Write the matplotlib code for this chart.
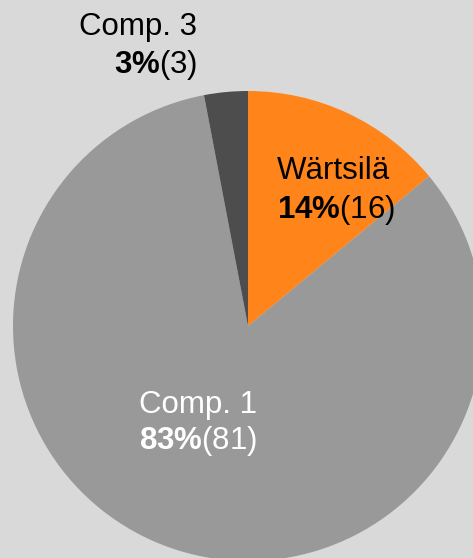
import matplotlib.pyplot as plt

plt.rcParams['font.family'] = ['Liberation Sans', 'DejaVu Sans']
plt.rcParams['mathtext.fontset'] = 'custom'
plt.rcParams['mathtext.rm'] = 'Liberation Sans'
plt.rcParams['mathtext.bf'] = 'Liberation Sans:bold'

# data
names = ['Wärtsilä', 'Comp. 1', 'Comp. 3']
shares = [14, 83, 3]
counts = [16, 81, 3]
colors = ['#ff851b', '#999999', '#4d4d4d']
text_colors = ['black', 'white', 'black']

W, H = 473, 558
bg = '#d9d9d9'

fig = plt.figure(figsize=(W / 100, H / 100), dpi=100, facecolor=bg)
ax = fig.add_axes([0, 0, 1, 1])
ax.set_facecolor(bg)

ax.pie(shares, colors=colors, startangle=90, counterclock=False,
       radius=235, center=(248, H - 326), frame=True,
       wedgeprops=dict(linewidth=0))
ax.set_xlim(0, W)
ax.set_ylim(0, H)
ax.set_aspect('equal')
ax.axis('off')

# label positions (pixels from top-left): (x, y line1, y line2, align)
label_pos = [(277, 171, 210, 'left'),
             (139, 405, 441, 'left'),
             (197, 27, 65, 'right')]

for name, share, cnt, tc, (x, y1, y2, ha) in zip(names, shares, counts, text_colors, label_pos):
    ax.text(x, H - y1, name, color=tc, fontsize=22.5, ha=ha, va='center')
    ax.text(x, H - y2, r'$\mathbf{%d\%%}$(%d)' % (share, cnt), color=tc,
            fontsize=22.5, ha=ha, va='center')

fig.savefig('out.png', dpi=100, facecolor=bg)
